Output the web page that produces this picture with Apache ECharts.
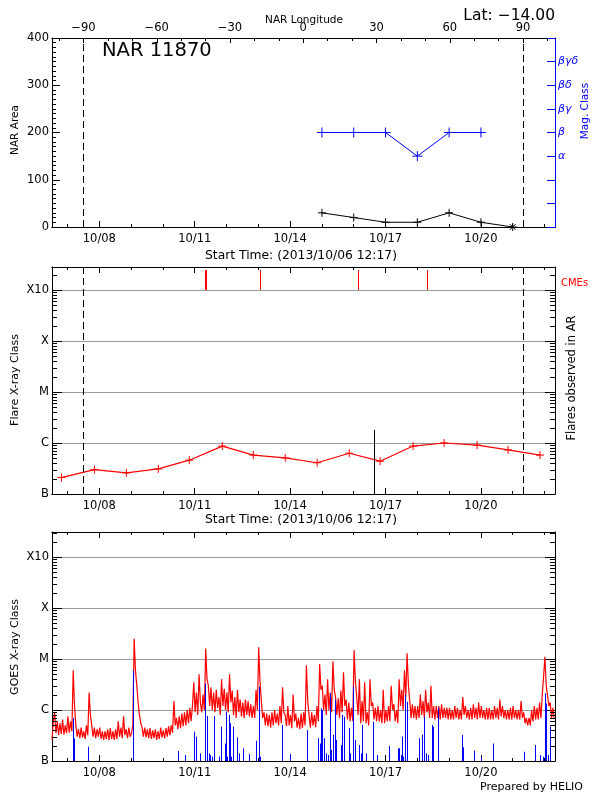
<!DOCTYPE html>
<html><head><meta charset="utf-8">
<script src="https://cdn.jsdelivr.net/npm/echarts@6/dist/echarts.min.js"></script>
<style>html,body{margin:0;padding:0;background:#fff}#c{width:600px;height:800px}</style>
</head><body><div id="c"></div>
<script>
// ---------------- data ----------------
// time unit: hours since 2013-10-06 00:00
const T_MIN = 12.283;               // 2013/10/06 12:17
const T_MAX = 391.9;
const dayTicks = [24,48,72,96,120,144,168,192,216,240,264,288,312,336,360,384];
const dayLabelTicks = [48,120,192,264,336];
const lonRange = [-102.9, 103.1];
const lonMinorTicks = [-100,-90,-80,-70,-60,-50,-40,-30,-20,-10,0,10,20,30,40,50,60,70,80,90,100];
const lonLabelTicks = [-90,-60,-30,0,30,60,90];
const limbHours = [35.95, 367.7];

const narHours = [216,240,264,288,312,336,360];
const narArea  = [30,20,10,10,30,10,0];
const magHours = [216,240,264,288,312,336];
const magClass = ['β','β','β','α','β','β'];
const magCategories = ['','','','α','β','βγ','βδ','βγδ',''];

const flareHours = [19.4,44.3,68.4,92.5,115.9,140.8,164.2,188.3,212.4,236.6,259.9,284.8,308.2,333.1,356.5,380.6];
const flareFlux  = [2.1e-7,3.0e-7,2.6e-7,3.1e-7,4.6e-7,8.7e-7,5.8e-7,5.1e-7,4.1e-7,6.3e-7,4.4e-7,8.7e-7,1.0e-6,9.1e-7,7.3e-7,5.8e-7];
const cmeHours = [127.6,128.4,169.4,243.3,295.3];
const cmeTopFlux = 2.45e-3;
const arFlareHours = [255.4];
const arFlareFlux = [1.8e-6];

const classLabels = ['B','C','M','X','X10'];

// GOES 1-8 A flux, units of 1e-7 W/m2, hourly samples from goesStartHour
const goesStartHour = 12.28, goesStepHours = 1;
const goesFlux = [
 2.6,6,9,3.5,6,3.2,5.5,3.4,6.5,3.3,5,3.5,7.5,3.6,6,3.8,60,12,5,3,
 4.2,2.8,4.5,2.9,3.8,2.7,5,3.2,22,8,5,3,4.5,2.8,4.2,3,4.5,2.7,3.8,2.6,
 3.8,2.7,4.2,2.6,4.4,2.7,3.8,2.6,4.2,2.7,6,3,4.5,2.8,7.5,3.2,4.2,2.8,4.5,3,
 3.5,5,250,60,30,14,8,5.5,4.5,3,4.5,2.9,4.2,2.8,4.4,2.7,4.0,2.8,4.2,2.6,
 3.8,2.7,4.5,2.9,4.0,2.8,4.4,3.0,4.8,3.2,5,3.6,15,5,7,4.2,7.5,4.4,8.5,4.8,
 9,5,10,5.5,11,6,12,35,9,22,8,50,14,9,20,10,160,40,30,12,
 28,10,22,9,25,11,18,8,40,12,26,10,22,9,50,14,24,8,18,7,
 25,9,16,7.5,14,7,16,8,15,7.5,13,7,12,7,25,10,170,35,15,7,
 9,5,8.5,4.8,8,4.5,9,5,10,5.5,8.5,5,12,5.5,28,9,8,4.8,12,5,
 8,4.4,20,6,8.5,4.5,7,4.2,8.5,4.4,9,5,75,15,8,4.5,9,5,8,4.6,
 12,6,80,25,30,10,20,8,40,10,22,9,90,25,18,8,17,7,24,9,
 55,12,16,6.5,14,6,11,6,150,35,18,8,40,5.5,15,6,35,5.5,9,5,
 40,12,14,6.5,11,6,12,6,10,5.5,25,5.5,10,6,12,6,30,10,13,6,
 10,5.5,40,12,25,10,60,18,130,30,15,7,13,7,12,6.5,12,7,20,8,
 15,7,25,9,14,7,30,7,12,6.5,12,7,12,6.5,13,7,11,7,11,6.5,
 11,6.5,10,6.5,12,7,11,6.5,10,6.5,18,8,12,7,10,6.5,11,6.5,13,7,
 11,6.5,14,7,12,7,10,6.5,11,6.5,11,6.5,10,6.5,12,7,11,6.5,16,7.5,
 12,7,10,6.5,10,6.5,11,6.5,12,7,10,6.5,10,6.5,15,7,9,5.5,7,5,
 7,5,10,6,12,6.5,11,6.5,14,7,20,45,110,30,30,12,14,7,11,7
];
// GOES events (blue), hours and peak (units of 1e-7 W/m2)
const goesEventHours = [27.9,28.7,39.5,73.4,107.1,112.9,119.7,120.7,124.2,127.5,129.2,130.5,131.2,133.0,134.5,138.0,139.8,142.5,143.6,144.3,145.8,146.8,147.6,148.6,151.9,153.6,156.1,161.1,166.4,168.4,169.4,185.8,192.1,
 205.1,213.4,214.2,215.2,215.9,217.7,219.2,220.7,222.0,222.7,224.0,225.5,226.5,230.5,231.5,232.3,233.0,236.5,237.3,239.8,240.6,243.8,245.3,246.1,249.4,254.9,257.9,266.9,273.7,274.5,275.5,276.5,277.5,278.8,280.0,289.3,291.8,293.3,294.6,296.4,298.9,299.6,303.6,322.0,322.7,331.0,335.8,345.4,368.3,377.0,380.5,383.1,384.3,385.1,386.8,388.1];
const goesEventPeak = [6.9,2.8,1.9,59,1.57,1.31,3.76,3.0,1.41,33,7.6,1.41,1.31,1.22,7.6,1.22,4.7,2.2,9.3,1.22,8.0,5.5,1.22,4.7,2.9,1.41,1.77,1.37,2.5,28.7,1.22,5.1,1.37,
 4.05,2.8,2.2,10.8,10,2.8,1.41,1.31,21,1.64,3.24,15.7,2.58,2.06,8.0,7.4,1.22,4.4,1.41,28.7,2.58,2.06,1.41,5.1,1.41,5.9,1.31,1.97,1.77,1.77,1.31,3.0,1.22,19.6,14.5,2.8,3.3,7.4,1.41,1.31,5.1,4.7,11.1,3.24,1.85,1.6,1.18,2.2,1.52,2.06,1.31,1.22,21.3,13.5,1.31,4.7];

// ---------------- chart ----------------
const FONT = '"DejaVu Sans"';
const FS = 11.5;
const LOG_MAX2 = -2.55, LOG_MAX3 = -2.51;
const L = Math.log10;

function dayLabel(h){ const d = Math.round(6 + h/24); return '10/' + String(d).padStart(2,'0'); }
function classLabel(v){
  const r = Math.round(v);
  if (Math.abs(v - r) > 1e-6 || r < -7 || r > -3) return '';
  return classLabels[r + 7];
}
function logMinor(max){
  const out = [];
  for (let n = -7; n <= -3; n++) for (let k = 2; k <= 9; k++) { const v = n + L(k); if (v < max) out.push(v); }
  return out;
}
const black = {color:'#000', width:1};
const lbl = {color:'#000', fontFamily:'DejaVu Sans', fontSize:FS};
function line(style){ return {show:true, onZero:false, lineStyle:style}; }

function timeAxes(gi, withLabels){
  const base = {type:'value', gridIndex:gi, min:T_MIN, max:T_MAX, splitLine:{show:false}, axisLine:line(black)};
  return [
    Object.assign({}, base, {position:'bottom', axisTick:{show:true, inside:true, length:3, customValues:dayTicks, lineStyle:black}, axisLabel:{show:false}}),
    Object.assign({}, base, {position:'bottom', axisTick:{show:true, inside:true, length:6, customValues:dayLabelTicks, lineStyle:black},
      axisLabel:Object.assign({show:withLabels, customValues:dayLabelTicks, formatter:dayLabel, margin:6}, lbl)}),
  ];
}
function topTimeAxes(gi){
  const base = {type:'value', gridIndex:gi, min:T_MIN, max:T_MAX, splitLine:{show:false}, axisLine:line(black), axisLabel:{show:false}};
  return [
    Object.assign({}, base, {position:'top', axisTick:{show:true, inside:true, length:3, customValues:dayTicks, lineStyle:black}}),
    Object.assign({}, base, {position:'top', axisTick:{show:true, inside:true, length:6, customValues:dayLabelTicks, lineStyle:black}}),
  ];
}
const lonAxes = [
  {type:'value', gridIndex:0, position:'top', min:lonRange[0], max:lonRange[1], splitLine:{show:false}, axisLine:line(black),
   axisTick:{show:true, inside:true, length:3, customValues:lonMinorTicks, lineStyle:black}, axisLabel:{show:false}},
  {type:'value', gridIndex:0, position:'top', min:lonRange[0], max:lonRange[1], splitLine:{show:false}, axisLine:line(black),
   axisTick:{show:true, inside:true, length:5, customValues:lonLabelTicks, lineStyle:black},
   axisLabel:Object.assign({customValues:lonLabelTicks, margin:4, formatter:v => (v < 0 ? '\u2212' + (-v) : String(v))}, lbl)},
];

function logYAxes(gi, max){
  const base = {type:'value', gridIndex:gi, min:-7, max:max, interval:1, axisLine:line(black),
    axisTick:{show:true, inside:true, length:10, lineStyle:black}};
  return [
    Object.assign({}, base, {position:'left', axisLabel:Object.assign({formatter:classLabel, margin:3}, lbl),
      splitLine:{show:true, showMinLine:false, showMaxLine:false, lineStyle:{color:'#999', width:1}}}),
    Object.assign({}, base, {position:'right', axisLabel:{show:false}, splitLine:{show:false}}),
  ];
}

function minorTickSeries(xi, yi, max){
  return {type:'custom', xAxisIndex:xi, yAxisIndex:yi, silent:true, clip:false, z:6,
    data: logMinor(max).map(v => [T_MIN, v]), encode:{x:0, y:1},
    renderItem(params, api){
      const cs = params.coordSys;
      const p = api.coord([api.value(0), api.value(1)]);
      const y = Math.round(p[1]) + 0.5;
      return {type:'group', children:[
        {type:'line', shape:{x1:cs.x, y1:y, x2:cs.x + 5, y2:y}, style:{stroke:'#000', lineWidth:1}},
        {type:'line', shape:{x1:cs.x + cs.width - 5, y1:y, x2:cs.x + cs.width, y2:y}, style:{stroke:'#000', lineWidth:1}}
      ]};
    }};
}
function vbarSeries(xi, yi, times, fromLog, toLogs, color, z){
  return {type:'custom', xAxisIndex:xi, yAxisIndex:yi, silent:true, clip:true, z:z,
    data: times.map((t, i) => [t, toLogs[i]]), encode:{x:0, y:1},
    renderItem(params, api){
      const a = api.coord([api.value(0), api.value(1)]);
      const b = api.coord([api.value(0), fromLog]);
      const x = Math.round(a[0]) + 0.5;
      return {type:'line', shape:{x1:x, y1:b[1], x2:x, y2:a[1]}, style:{stroke:color, lineWidth:1}};
    }};
}

const PLUS = 'path://M0,5L10,5M5,0L5,10';
const STAR = 'path://M0,5L10,5M5,0L5,10M1.5,1.5L8.5,8.5M8.5,1.5L1.5,8.5';
const limbMarkLine = {symbol:'none', silent:true, label:{show:false}, animation:false,
  lineStyle:{type:[7,4], color:'#000', width:1}, data: limbHours.map(h => ({xAxis:h}))};

function txt(text, x, y, o){
  o = o || {};
  const align = o.align || 'center';
  return {type:'text', x:x, y:y, rotation:o.rot || 0, z:100, silent:true,
    style:{text:text, x:0, y:0, fill:o.color || '#000', font:(o.italic ? 'italic ' : '') + (o.size || FS) + 'px ' + FONT,
      textAlign:align, textVerticalAlign:'middle', align:align, verticalAlign:'middle'}};
}
const R90 = Math.PI / 2;

const option = {
  animation:false,
  backgroundColor:'#fff',
  grid:[
    {left:52, right:45, top:38, height:189},
    {left:52, right:45, top:267, height:227},
    {left:52, right:45, top:532, height:229},
  ],
  xAxis:[].concat(timeAxes(0, true), lonAxes, timeAxes(1, true), topTimeAxes(1), timeAxes(2, true), topTimeAxes(2)),
  yAxis:[
    {type:'value', gridIndex:0, position:'left', min:0, max:400, interval:100, splitLine:{show:false},
     axisLine:line(black), axisTick:{show:true, inside:true, length:8, lineStyle:black},
     minorTick:{show:true, splitNumber:10, length:4, lineStyle:black},
     axisLabel:Object.assign({margin:3}, lbl)},
    {type:'value', gridIndex:0, position:'right', min:0, max:8, interval:1, splitLine:{show:false},
     axisLine:line({color:'#00f', width:1}), axisTick:{show:true, inside:true, length:8, lineStyle:{color:'#00f'}},
     axisLabel:{formatter:v => magCategories[Math.round(v)] || '', margin:3, color:'#00f', fontFamily:'DejaVu Sans', fontSize:11, fontStyle:'italic'}},
  ].concat(logYAxes(1, LOG_MAX2), logYAxes(2, LOG_MAX3)),
  series:[
    {type:'line', xAxisIndex:0, yAxisIndex:0, z:3,
     data: narHours.map((h, i) => ({value:[h, narArea[i]], symbol: i === narHours.length - 1 ? STAR : PLUS})),
     symbol:PLUS, symbolSize:8, showSymbol:true,
     lineStyle:{color:'#000', width:1}, itemStyle:{color:'#000', borderColor:'#000', borderWidth:1},
     markLine:limbMarkLine},
    {type:'line', xAxisIndex:0, yAxisIndex:1, z:3,
     data: magHours.map((h, i) => [h, magCategories.indexOf(magClass[i])]),
     symbol:PLUS, symbolSize:10,
     lineStyle:{color:'#00f', width:1}, itemStyle:{color:'#00f', borderColor:'#00f', borderWidth:1}},
    // panel 2
    {type:'line', xAxisIndex:4, yAxisIndex:2, z:3,
     data: flareHours.map((h, i) => [h, L(flareFlux[i])]),
     symbol:PLUS, symbolSize:8,
     lineStyle:{color:'#f00', width:1.2}, itemStyle:{color:'#f00', borderColor:'#f00', borderWidth:1},
     markLine:limbMarkLine},
    vbarSeries(4, 2, cmeHours, -3, cmeHours.map(() => L(cmeTopFlux)), '#f00', 4),
    vbarSeries(4, 2, arFlareHours, -7, arFlareFlux.map(v => L(v)), '#000', 4),
    minorTickSeries(4, 2, LOG_MAX2),
    // panel 3
    {type:'line', xAxisIndex:8, yAxisIndex:4, z:2, showSymbol:false, symbol:'none',
     data: goesFlux.map((v, i) => [goesStartHour + i * goesStepHours, L(v * 1e-7)]),
     lineStyle:{color:'#f00', width:1.2}},
    vbarSeries(8, 4, goesEventHours, -7, goesEventPeak.map(v => L(v * 1e-7)), '#00f', 5),
    minorTickSeries(8, 4, LOG_MAX3),
  ],
  graphic:[
    txt('NAR Longitude', 304, 20.5, {size:10.5}),
    txt('Lat: \u221214.00', 555, 16, {size:15.5, align:'right'}),
    txt('NAR 11870', 102, 50.5, {size:19.5, align:'left'}),
    txt('Start Time: (2013/10/06 12:17)', 301, 256, {size:12.3}),
    txt('Start Time: (2013/10/06 12:17)', 301, 519.5, {size:12.3}),
    txt('NAR Area', 15, 130, {rot:R90, size:10.5}),
    txt('Mag. Class', 585.5, 111, {rot:R90, size:10.5, color:'#00f'}),
    txt('Flare X-ray Class', 15, 380, {rot:R90, size:11}),
    txt('Flares observed in AR', 572.5, 378, {rot:R90, size:11.5}),
    txt('CMEs', 561, 283.5, {size:10, align:'left', color:'#f00'}),
    txt('GOES X-ray Class', 15, 647, {rot:R90, size:11}),
    txt('Prepared by HELIO', 583, 787, {size:11, align:'right'}),
  ]
};
const chart = echarts.init(document.getElementById('c'), null, {renderer:'canvas'});
chart.setOption(option);
</script>
</body></html>
